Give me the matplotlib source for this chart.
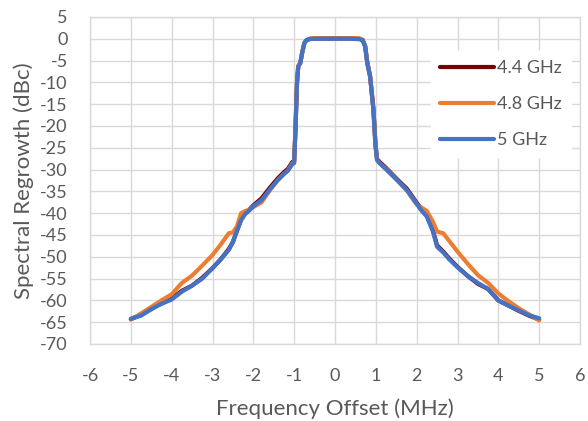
import matplotlib
matplotlib.use("Agg")
import matplotlib.pyplot as plt

# frequency offset grid (MHz) shared by all three traces
freq = [-5.0, -4.75, -4.5, -4.25, -4.0, -3.75, -3.5, -3.25, -3.0, -2.8,
        -2.6, -2.5, -2.4, -2.3, -2.2, -2.1, -2.0, -1.8, -1.6, -1.4,
        -1.25, -1.15, -1.05, -1.0, -0.97, -0.93, -0.9, -0.85, -0.8, -0.75,
        -0.7, -0.6, -0.4, -0.2, 0.0, 0.2, 0.4, 0.6, 0.68, 0.74,
        0.79, 0.86, 0.94, 0.99, 1.03, 1.1, 1.27, 1.52, 1.76, 2.0,
        2.1, 2.25, 2.4, 2.5, 2.65, 2.8, 3.0, 3.25, 3.5, 3.75,
        4.0, 4.25, 4.5, 4.75, 5.0]

ghz_4p4 = [-64.3, -63.3, -62.0, -60.6, -59.6, -57.8, -56.6, -54.8, -52.6, -50.6,
           -48.2, -46.6, -44.0, -41.5, -40.0, -39.2, -38.2, -36.6, -34.2, -32.0,
           -30.6, -29.8, -28.3, -28.0, -21.0, -10.0, -6.3, -5.5, -3.0, -1.0,
           -0.3, 0.0, 0.1, 0.1, 0.1, 0.1, 0.1, 0.0, -0.3, -1.8,
           -5.4, -8.6, -16.0, -24.0, -27.6, -28.3, -29.8, -32.2, -34.4, -37.6,
           -38.8, -40.6, -44.0, -47.4, -48.8, -50.4, -52.3, -54.4, -56.2, -57.4,
           -60.0, -61.2, -62.4, -63.5, -64.4]

ghz_4p8 = [-64.4, -63.0, -61.5, -60.0, -58.6, -56.0, -54.3, -52.0, -49.6, -47.2,
           -44.6, -44.4, -43.0, -40.0, -39.5, -39.2, -38.6, -37.5, -34.8, -32.4,
           -31.0, -30.2, -28.6, -28.4, -21.0, -10.0, -6.3, -5.5, -3.0, -1.0,
           -0.3, 0.0, 0.1, 0.1, 0.1, 0.1, 0.1, 0.1, -0.2, -1.6,
           -5.4, -8.6, -16.0, -24.0, -27.8, -28.6, -30.0, -32.4, -34.8, -38.0,
           -38.6, -39.5, -42.0, -44.2, -44.6, -46.4, -48.8, -51.6, -54.2, -56.0,
           -58.4, -60.2, -61.8, -63.2, -64.6]

ghz_5p0 = [-64.2, -63.5, -62.0, -60.8, -59.8, -58.0, -56.6, -55.0, -52.6, -50.6,
           -48.4, -46.6, -44.0, -41.6, -40.2, -39.4, -38.4, -37.0, -34.6, -32.4,
           -31.0, -30.2, -28.8, -28.5, -21.6, -10.0, -6.4, -5.6, -3.0, -1.0,
           -0.3, 0.0, 0.0, 0.0, 0.0, 0.0, 0.0, -0.1, -0.4, -1.8,
           -5.6, -8.7, -16.3, -24.5, -27.8, -28.6, -30.1, -32.4, -34.7, -37.8,
           -39.2, -40.8, -44.2, -47.7, -49.0, -50.6, -52.4, -54.4, -56.0, -57.4,
           -60.0, -61.2, -62.3, -63.4, -64.1]

series = [("4.4 GHz", ghz_4p4, "#7B0000"),
          ("4.8 GHz", ghz_4p8, "#ED7D31"),
          ("5 GHz", ghz_5p0, "#4472C4")]

plt.rcParams["font.family"] = ["Lato", "DejaVu Sans"]
plt.rcParams["axes.unicode_minus"] = False
txt = "#595959"
grid = "#D9D9D9"

fig = plt.figure(figsize=(5.88, 4.21), dpi=100)
ax = fig.add_axes([90 / 588, 1 - 344 / 421, 490 / 588, 327 / 421])

for name, vals, col in series:
    ax.plot(freq, vals, color=col, lw=3.0, label=name, solid_capstyle="round")

ax.set_xlim(-6, 6)
ax.set_ylim(-70, 5)
ax.set_xticks(range(-6, 7))
ax.set_yticks(range(-70, 6, 5))
ax.grid(True, color=grid, lw=1)
ax.set_axisbelow(True)
for s in ax.spines.values():
    s.set_color(grid)
    s.set_linewidth(1)
ax.tick_params(length=0, labelsize=13, colors=txt)
ax.tick_params(axis="y", pad=16)
ax.tick_params(axis="x", pad=17)

ax.set_xlabel("Frequency Offset (MHz)", fontsize=16, color=txt, labelpad=11)
ax.set_ylabel("Spectral Regrowth (dBc)", fontsize=16, color=txt, labelpad=4)

leg = ax.legend(loc="upper left", bbox_to_anchor=(0.695, 0.895), frameon=True,
                fontsize=13, handlelength=3.0, handletextpad=0.2,
                labelspacing=1.1, borderaxespad=0, borderpad=0.5,
                fancybox=False)
leg.get_frame().set_edgecolor("white")
leg.get_frame().set_facecolor("white")
leg.get_frame().set_alpha(1)
for t in leg.get_texts():
    t.set_color(txt)

fig.savefig("out.png", dpi=100)
